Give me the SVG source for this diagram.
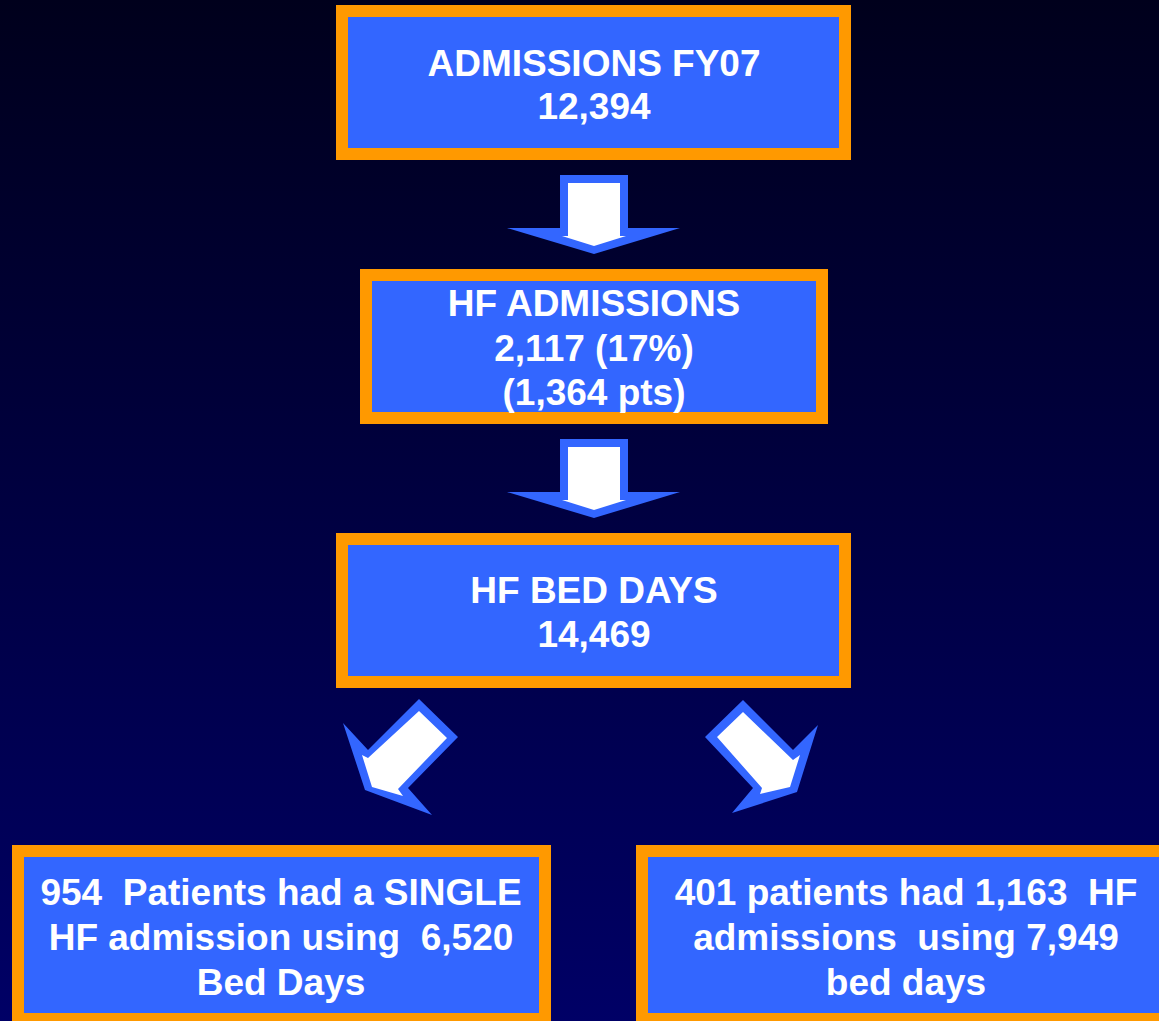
<svg xmlns="http://www.w3.org/2000/svg" width="1159" height="1021" viewBox="0 0 1159 1021">
<defs>
<linearGradient id="bg" x1="0" y1="0" x2="0" y2="1">
<stop offset="0" stop-color="#00001c"/>
<stop offset="1" stop-color="#000066"/>
</linearGradient>
<style>
.box{fill:#3366ff;stroke:#ff9900;stroke-width:12}
.t{font-family:"Liberation Sans",Arial,sans-serif;font-weight:bold;font-size:37px;fill:#ffffff;text-anchor:middle;white-space:pre}
.ao{fill:#3366ff}
.ai{fill:#ffffff}
</style>
</defs>
<rect width="1159" height="1021" fill="url(#bg)"/>
<g id="connectors">
<g id="arrow1">
<polygon class="ao" points="560,175 628,175 628,228 680,228 594,254 507,228 560,228"/>
<polygon class="ai" points="568,183 620,183 620,236 626,236 594,246 562,236 568,236"/>
</g>
<g id="arrow2" transform="translate(0,264)">
<polygon class="ao" points="560,175 628,175 628,228 680,228 594,254 507,228 560,228"/>
<polygon class="ai" points="568,183 620,183 620,236 626,236 594,246 562,236 568,236"/>
</g>
<g id="arrow3">
<polygon class="ao" points="419,699 458,737 408,788 432,815 365,790 343,723 368,750"/>
<polygon class="ai" points="419,711 447,738 398,789 403,796 372,787 362,755 368,758"/>
</g>
<g id="arrow4">
<polygon class="ao" points="743,700 705,737 753,788 732,813 797,792 818,725 793,750"/>
<polygon class="ai" points="743,712 717,737 762,788 760,794 790,787 800,755 793,760"/>
</g>
</g>
<g id="node1">
<rect class="box" x="342" y="11" width="503" height="143"/>
<text class="t" x="594" y="76">ADMISSIONS FY07</text>
<text class="t" x="594" y="119">12,394</text>
</g>
<g id="node2">
<rect class="box" x="366" y="275" width="456" height="143"/>
<text class="t" x="594" y="316">HF ADMISSIONS</text>
<text class="t" x="594" y="361">2,117 (17%)</text>
<text class="t" x="594" y="405">(1,364 pts)</text>
</g>
<g id="node3">
<rect class="box" x="342" y="539" width="503" height="143"/>
<text class="t" x="594" y="603">HF BED DAYS</text>
<text class="t" x="594" y="647">14,469</text>
</g>
<g id="node4">
<rect class="box" x="18" y="851" width="527" height="168"/>
<text class="t" x="281" y="905">954  Patients had a SINGLE</text>
<text class="t" x="281" y="950">HF admission using  6,520</text>
<text class="t" x="281" y="995">Bed Days</text>
</g>
<g id="node5">
<rect class="box" x="642" y="851" width="528" height="168"/>
<text class="t" x="906" y="905">401 patients had 1,163  HF</text>
<text class="t" x="906" y="950">admissions  using 7,949</text>
<text class="t" x="906" y="995">bed days</text>
</g>
</svg>
